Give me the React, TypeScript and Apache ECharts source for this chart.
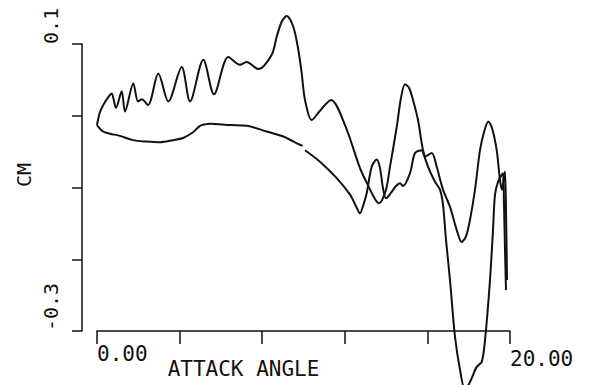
import React, { useEffect, useRef } from 'react';
import * as echarts from 'echarts';

// [attack angle, CM]
const upperBranch: [number, number][] = [
  [0.0, -0.013], [0.145, 0.005], [0.387, 0.019], [0.63, 0.029], [0.712, 0.031],
  [0.92, 0.011], [1.196, 0.034], [1.356, 0.006], [1.758, 0.045], [1.985, 0.02],
  [2.165, 0.023], [2.47, 0.015], [2.969, 0.059], [3.453, 0.02], [4.102, 0.068],
  [4.504, 0.02], [5.148, 0.078], [5.666, 0.03], [6.358, 0.082], [6.925, 0.071],
  [7.249, 0.075], [7.811, 0.065], [8.46, 0.085], [8.702, 0.11], [8.944, 0.131],
  [9.186, 0.139], [9.506, 0.124], [9.748, 0.092], [9.913, 0.059], [10.073, 0.022],
  [10.397, -0.006], [10.799, 0.007], [11.332, 0.022], [12.01, -0.013], [12.736, -0.073],
  [13.123, -0.097], [13.462, -0.116], [13.656, -0.122], [13.995, -0.103], [14.189, -0.071],
  [14.513, -0.016], [14.722, 0.025], [14.915, 0.044], [15.109, 0.039], [15.303, 0.022],
  [15.545, -0.006], [15.787, -0.048], [16.029, -0.071], [16.368, -0.092], [16.61, -0.103],
  [16.755, -0.124], [16.901, -0.173], [17.094, -0.229], [17.337, -0.308], [17.579, -0.354],
  [17.821, -0.382], [18.063, -0.371], [18.388, -0.35], [18.63, -0.343], [18.789, -0.313],
  [19.031, -0.229], [19.177, -0.159], [19.274, -0.11], [19.419, -0.092], [19.564, -0.084],
  [19.661, -0.08], [19.709, -0.124], [19.758, -0.187], [19.806, -0.243],
];

const lowerBranchStart: [number, number][] = [
  [0.0, -0.013], [0.291, -0.022], [0.63, -0.025], [1.114, -0.028], [1.743, -0.034],
  [2.407, -0.036], [3.051, -0.037], [3.68, -0.034], [4.165, -0.031], [4.649, -0.023],
  [4.988, -0.014], [5.23, -0.012], [5.472, -0.011], [6.441, -0.013], [7.249, -0.014],
  [8.218, -0.022], [9.022, -0.029], [9.588, -0.037], [9.961, -0.042],
];

const lowerBranchEnd: [number, number][] = [
  [10.073, -0.048], [10.799, -0.064], [11.608, -0.087], [12.252, -0.11], [12.542, -0.126],
  [12.736, -0.136], [12.881, -0.126], [13.06, -0.108], [13.303, -0.071], [13.545, -0.061],
  [13.705, -0.073], [13.85, -0.101], [13.995, -0.115], [14.271, -0.106], [14.479, -0.098],
  [14.673, -0.094], [14.818, -0.098], [15.157, -0.08], [15.399, -0.052], [15.724, -0.048],
  [15.884, -0.057], [16.208, -0.052], [16.45, -0.071], [16.755, -0.103], [17.094, -0.127],
  [17.419, -0.159], [17.661, -0.176], [17.869, -0.168], [18.063, -0.145], [18.305, -0.103],
  [18.547, -0.048], [18.741, -0.023], [18.949, -0.008], [19.128, -0.017], [19.356, -0.048],
  [19.516, -0.09], [19.613, -0.103], [19.709, -0.084], [19.758, -0.078], [19.806, -0.131],
  [19.855, -0.229],
];

const xTickLabels = [0, 20];
const yTickLabels = [0.1, -0.3];

export default function App() {
  const ref = useRef<HTMLDivElement>(null);

  useEffect(() => {
    const chart = echarts.init(ref.current!, null, { renderer: 'svg' });
    const font = 'DejaVu Sans Mono';
    const ink = '#111';
    const curve = (data: [number, number][]) => ({
      type: 'line',
      data,
      showSymbol: false,
      clip: false,
      smooth: 0.3,
      lineStyle: { color: ink, width: 2 },
    });
    chart.setOption({
      animation: false,
      backgroundColor: '#ffffff',
      grid: { left: 97, right: 79, top: 44, bottom: 54, containLabel: false, outerBoundsMode: 'none' },
      xAxis: {
        type: 'value',
        min: 0,
        max: 20,
        interval: 4,
        name: 'ATTACK ANGLE',
        nameLocation: 'middle',
        nameGap: 27,
        nameMoveOverlap: false,
        nameTextStyle: { fontFamily: font, fontSize: 21, color: ink, padding: [0, 120, 0, 0] },
        axisLine: { show: true, onZero: false, lineStyle: { color: ink, width: 1.5 } },
        axisTick: { show: true, inside: false, length: 13, lineStyle: { color: ink, width: 1.5 } },
        axisLabel: {
          show: true,
          margin: 12,
          align: 'left',
          showMinLabel: true,
          showMaxLabel: true,
          fontFamily: font,
          fontSize: 21,
          color: ink,
          formatter: (v: number) => {
            if (!xTickLabels.some((t) => Math.abs(t - v) < 1e-6)) return '';
            return v === 0 ? '{a|' + v.toFixed(2) + '}' : '{b|' + v.toFixed(2) + '}';
          },
          rich: {
            a: { fontFamily: font, fontSize: 21, color: ink },
            b: { fontFamily: font, fontSize: 21, color: ink, padding: [5, 0, 0, 0] },
          },
        },
        splitLine: { show: false },
      },
      yAxis: {
        type: 'value',
        min: -0.3,
        max: 0.1,
        interval: 0.1,
        offset: 15,
        name: 'CM',
        nameLocation: 'middle',
        nameGap: 48,
        nameMoveOverlap: false,
        nameTextStyle: { fontFamily: font, fontSize: 20, color: ink, padding: [0, 0, 0, 25] },
        axisLine: { show: true, onZero: false, lineStyle: { color: ink, width: 1.5 } },
        axisTick: { show: true, inside: false, length: 10, lineStyle: { color: ink, width: 1.5 } },
        axisLabel: {
          show: true,
          rotate: 90,
          align: 'left',
          verticalAlign: 'middle',
          margin: 31,
          showMinLabel: true,
          showMaxLabel: true,
          fontFamily: font,
          fontSize: 20,
          color: ink,
          formatter: (v: number) =>
            yTickLabels.some((t) => Math.abs(t - v) < 1e-6) ? String(Math.round(v * 10) / 10) : '',
        },
        splitLine: { show: false },
      },
      series: [curve(upperBranch), curve(lowerBranchStart), curve(lowerBranchEnd)],
    });
    return () => chart.dispose();
  }, []);

  return (
    <div
      ref={ref}
      style={{ position: 'fixed', left: 0, top: 0, width: 589, height: 385, background: '#fff' }}
    />
  );
}
